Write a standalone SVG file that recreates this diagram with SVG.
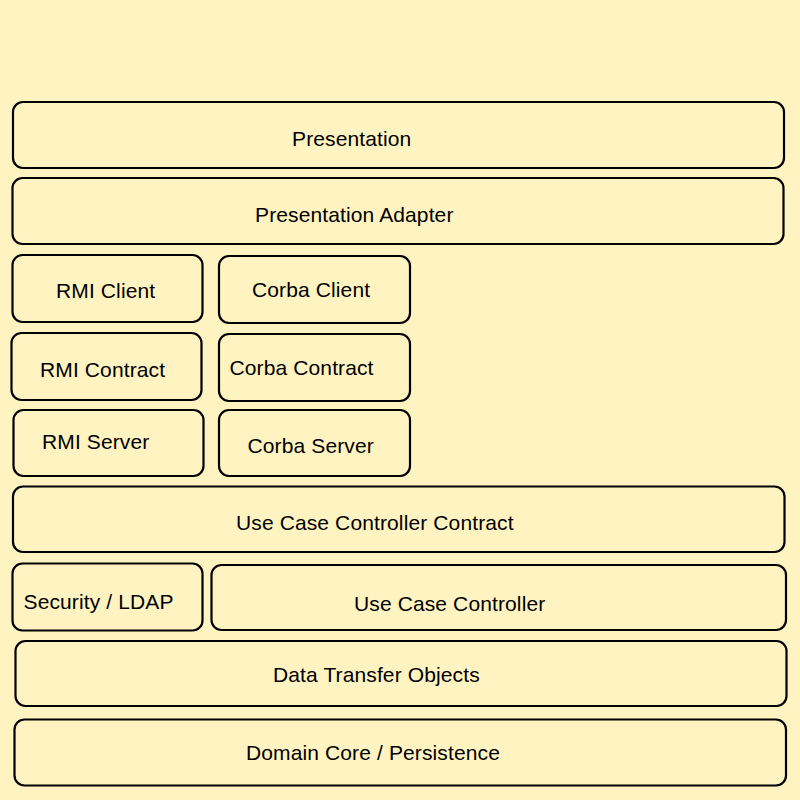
<svg xmlns="http://www.w3.org/2000/svg" width="800" height="800" viewBox="0 0 800 800">
<style>
.box{fill:#fff4c1;stroke:#000;stroke-width:2.2}
.lbl{font-family:"Liberation Sans",Arial,sans-serif;font-size:21px;letter-spacing:0.12px;fill:#000}
</style>
<rect x="0" y="0" width="800" height="800" fill="#fff4c1"/>
<g id="presentation"><rect class="box" x="13" y="102" width="771" height="66" rx="10"/><text class="lbl" x="292" y="146">Presentation</text></g>
<g id="presentation-adapter"><rect class="box" x="12.5" y="178" width="771" height="66" rx="10"/><text class="lbl" x="255" y="222">Presentation Adapter</text></g>
<g id="rmi-client"><rect class="box" x="12.5" y="255" width="190" height="67" rx="10"/><text class="lbl" x="56" y="298">RMI Client</text></g>
<g id="corba-client"><rect class="box" x="219" y="256" width="191" height="67" rx="10"/><text class="lbl" x="252" y="297">Corba Client</text></g>
<g id="rmi-contract"><rect class="box" x="11.5" y="333" width="190" height="67" rx="10"/><text class="lbl" x="40" y="377">RMI Contract</text></g>
<g id="corba-contract"><rect class="box" x="219" y="334" width="191" height="67" rx="10"/><text class="lbl" x="229.5" y="374.5">Corba Contract</text></g>
<g id="rmi-server"><rect class="box" x="13.5" y="410" width="190" height="66" rx="10"/><text class="lbl" x="42" y="448.5">RMI Server</text></g>
<g id="corba-server"><rect class="box" x="219" y="410" width="191" height="66" rx="10"/><text class="lbl" x="247.5" y="453">Corba Server</text></g>
<g id="ucc-contract"><rect class="box" x="13" y="486.5" width="771.5" height="65.5" rx="10"/><text class="lbl" x="236" y="530">Use Case Controller Contract</text></g>
<g id="security-ldap"><rect class="box" x="12.5" y="563.5" width="190" height="67" rx="10"/><text class="lbl" x="23.5" y="608.5">Security / LDAP</text></g>
<g id="use-case-controller"><rect class="box" x="211.5" y="565" width="574.5" height="65" rx="10"/><text class="lbl" x="354" y="611">Use Case Controller</text></g>
<g id="data-transfer-objects"><rect class="box" x="15.5" y="641" width="771" height="65" rx="10"/><text class="lbl" x="273" y="682">Data Transfer Objects</text></g>
<g id="domain-core"><rect class="box" x="14.5" y="719.5" width="771.5" height="66" rx="10"/><text class="lbl" x="246" y="759.5">Domain Core / Persistence</text></g>
<g id="connectors"></g>
</svg>
